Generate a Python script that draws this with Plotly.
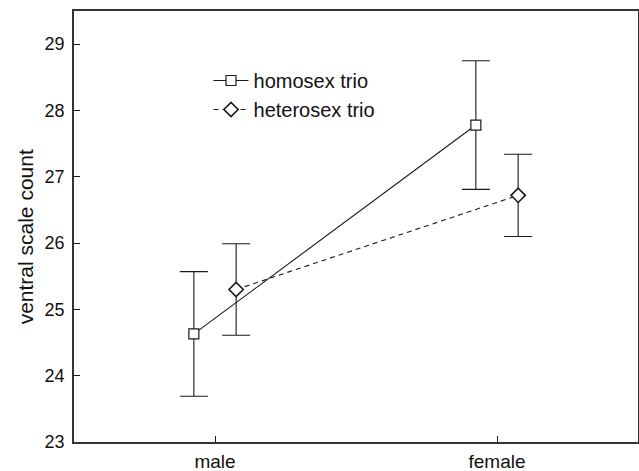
import plotly.graph_objects as go

categories = ["male", "female"]
homosex_mean = [24.63, 27.78]
homosex_err = [0.94, 0.97]
heterosex_mean = [25.30, 26.72]
heterosex_err = [0.69, 0.62]
y_ticks = [23, 24, 25, 26, 27, 28, 29]
y_title = "ventral scale count"

offset = 0.075
base = list(range(len(categories)))
ink = "#1a1a1a"

fig = go.Figure()
fig.add_trace(go.Scatter(
    x=[b - offset for b in base], y=homosex_mean,
    mode="lines+markers", name="homosex trio",
    line=dict(color=ink, width=1.1),
    marker=dict(symbol="square", size=10, color="white", line=dict(color=ink, width=1.2)),
    error_y=dict(type="data", array=homosex_err, visible=True, color=ink, thickness=1.1, width=14),
))
fig.add_trace(go.Scatter(
    x=[b + offset for b in base], y=heterosex_mean,
    mode="lines+markers", name="heterosex trio",
    line=dict(color=ink, width=1.1, dash="5px,4px"),
    marker=dict(symbol="diamond", size=11, color="white", line=dict(color=ink, width=1.6)),
    error_y=dict(type="data", array=heterosex_err, visible=True, color=ink, thickness=1.1, width=14),
))

fig.add_annotation(
    text=y_title, textangle=-90, xref="paper", yref="paper",
    x=-0.087, y=0.477, xanchor="center", yanchor="middle",
    showarrow=False, font=dict(size=21),
)

fig.update_layout(
    width=639, height=471,
    margin=dict(l=74, r=1, t=11, b=29),
    paper_bgcolor="white", plot_bgcolor="white",
    font=dict(family="Liberation Sans, Arial, sans-serif", size=18, color="#111"),
    showlegend=True,
    legend=dict(x=0.2385, y=0.884, xanchor="left", yanchor="top", itemwidth=35,
                bgcolor="rgba(0,0,0,0)", font=dict(size=20), tracegroupgap=0),
    xaxis=dict(
        range=[-0.5, 1.5], tickvals=base, ticktext=categories,
        ticks="inside", ticklen=6, tickcolor=ink, showgrid=False, zeroline=False,
        showline=True, linecolor="#333", linewidth=1.5, mirror=True,
        tickfont=dict(size=19), ticklabelstandoff=1, automargin=False,
    ),
    yaxis=dict(
        range=[23, 29.5], tickvals=y_ticks,
        ticks="inside", ticklen=6, tickcolor=ink, showgrid=False, zeroline=False,
        showline=True, linecolor="#333", linewidth=1.5, mirror=True,
        tickfont=dict(size=18), ticklabelstandoff=4, automargin=False,
    ),
)

fig.write_html("out.html", config={"displayModeBar": False},
               post_script="document.body.style.margin='0px';")
